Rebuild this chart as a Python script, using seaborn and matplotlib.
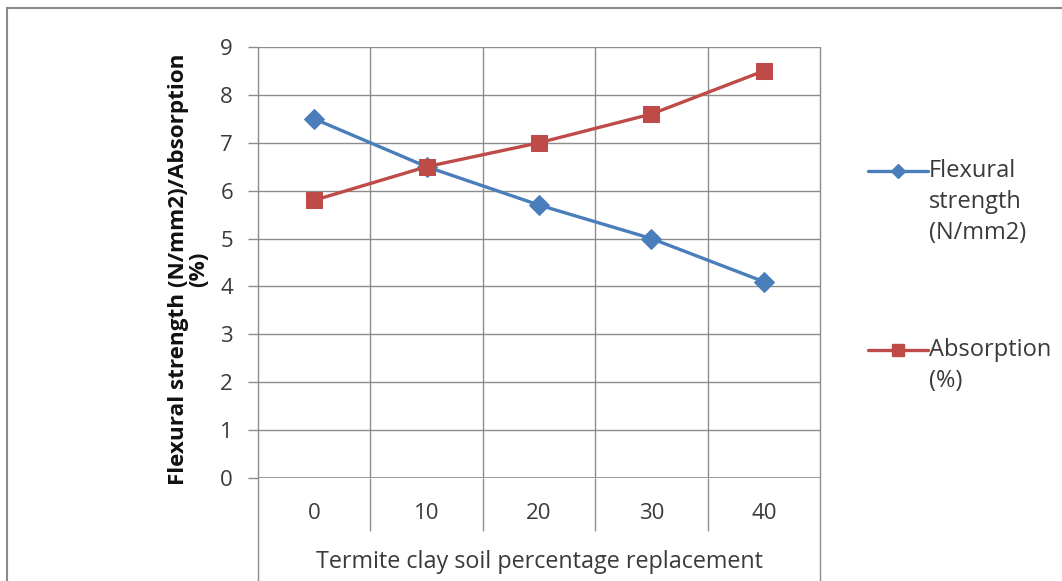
import matplotlib
matplotlib.use("Agg")
import matplotlib.pyplot as plt
from matplotlib.lines import Line2D
from matplotlib.patches import Rectangle
import seaborn as sns
import pandas as pd

# Data
replacement = ["0", "10", "20", "30", "40"]
flexural = [7.5, 6.5, 5.7, 5.0, 4.1]
absorption = [5.8, 6.5, 7.0, 7.6, 8.5]
series_names = ["Flexural strength (N/mm2)", "Absorption (%)"]
y_ticks = list(range(0, 10))

sns.set_theme(style="white")
plt.rcParams["font.family"] = ["Open Sans", "DejaVu Sans"]

W, H = 1062, 581
fig = plt.figure(figsize=(W / 100, H / 100), dpi=100)

# plot area in pixels: left 258, right 820, top 47, bottom 478
ax = fig.add_axes([258 / W, (H - 478) / H, (820 - 258) / W, (478 - 47) / H])

pos = list(range(len(replacement)))
df = pd.DataFrame({
    "pos": pos * 2,
    "value": flexural + absorption,
    "series": [series_names[0]] * len(pos) + [series_names[1]] * len(pos),
})

blue = "#4A7EBB"
red = "#BE4B48"
palette = {series_names[0]: blue, series_names[1]: red}
markers = {series_names[0]: "D", series_names[1]: "s"}
sizes = {series_names[0]: 10.5, series_names[1]: 12}

for name in series_names:
    sub = df[df["series"] == name]
    sns.lineplot(data=sub, x="pos", y="value", ax=ax, color=palette[name],
                 marker=markers[name], markersize=sizes[name],
                 markeredgecolor=palette[name], linewidth=2.4, legend=False,
                 zorder=3)

grid_c = "#8C8C8C"
ax.set_xlim(-0.5, len(pos) - 0.5)
ax.set_ylim(0, 9)
ax.set_yticks(y_ticks)
ax.set_yticklabels([str(v) for v in y_ticks])
ax.set_xticks(pos)
ax.set_xticklabels(replacement)
# category dividers between the x labels
ax.set_xticks([p + 0.5 for p in range(len(pos) - 1)], minor=True)

ax.grid(True, which="major", axis="y", color=grid_c, linewidth=1)
ax.grid(True, which="minor", axis="x", color=grid_c, linewidth=1)
ax.grid(False, which="major", axis="x")

for s in ["top", "right", "left", "bottom"]:
    ax.spines[s].set_visible(False)
ax.axhline(0, color=grid_c, linewidth=1.2, zorder=2)
# outer edges of the category axis run down past the axis title
for xe in (-0.5, len(pos) - 0.5):
    ax.axvline(xe, ymin=-0.3, ymax=1, color=grid_c, linewidth=1, clip_on=False)

text_c = "#3A3A3A"
ax.tick_params(axis="y", which="major", length=7, width=1, color=grid_c,
               pad=11, labelsize=16, labelcolor=text_c, left=True)
ax.tick_params(axis="x", which="major", length=0, pad=18, labelsize=16,
               labelcolor=text_c, bottom=True)
ax.tick_params(axis="x", which="minor", length=38, width=1, color=grid_c,
               direction="out", bottom=True)

ax.set_xlabel("Termite clay soil percentage replacement", fontsize=16.8,
              color=text_c)
ax.xaxis.set_label_coords(0.5, (478 - 550) / 431)
ax.set_ylabel("Flexural strength (N/mm2)/Absorption\n(%)", fontsize=16.2,
              fontweight="bold", color="#111111", linespacing=0.95)
ax.yaxis.set_label_coords((209 - 258) / 562, 0.484)

# legend on the right
def legend_entry(y_px, color, marker, ms, lines):
    y = (H - y_px) / H
    fig.add_artist(Line2D([868 / W, 928 / W], [y, y], color=color, linewidth=2.4,
                          transform=fig.transFigure))
    fig.add_artist(Line2D([898 / W], [y], color=color, marker=marker, markersize=ms,
                          markeredgecolor=color, transform=fig.transFigure))
    for i, t in enumerate(lines):
        fig.text(929 / W, (H - y_px - i * 31) / H, t, fontsize=17, color=text_c,
                 va="center", ha="left")

legend_entry(171, blue, "D", 7, ["Flexural", "strength", "(N/mm2)"])
legend_entry(350, red, "s", 9, ["Absorption", "(%)"])

# chart frame
fig.add_artist(Rectangle((7 / W, -0.05), 1.2, (H - 8) / H + 0.05, fill=False,
                         edgecolor="#8A8A8A", linewidth=1.5,
                         transform=fig.transFigure))

fig.savefig("out.png", dpi=100)
